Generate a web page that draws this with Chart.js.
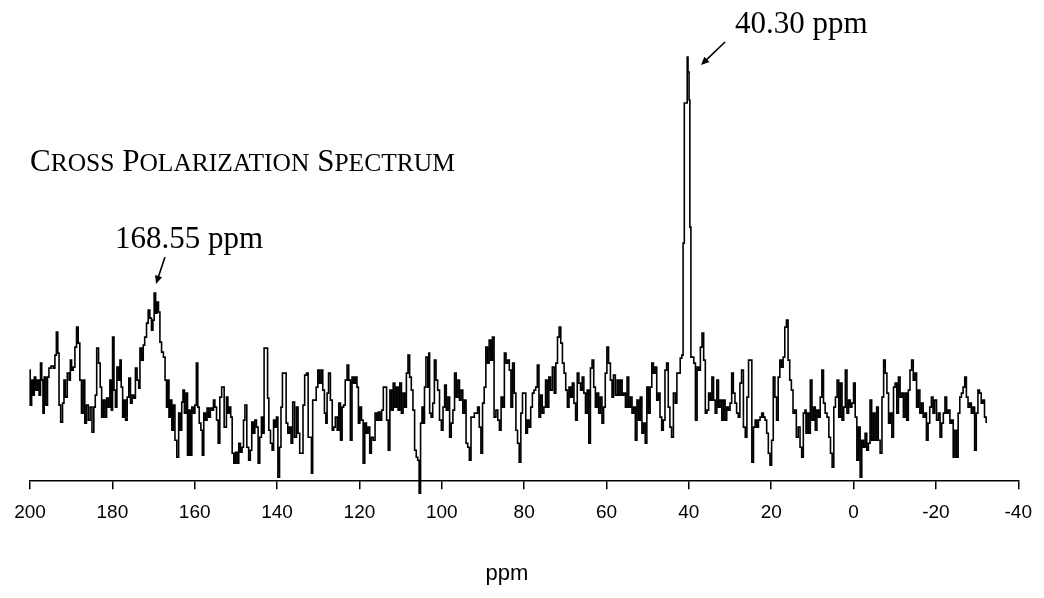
<!DOCTYPE html>
<html>
<head>
<meta charset="utf-8">
<script src="https://cdn.jsdelivr.net/npm/chart.js@4.4.1/dist/chart.umd.min.js"></script>
<style>
    html, body { margin: 0; padding: 0; background: #fff; }
    #wrap { width: 1044px; height: 598px; }
</style>
</head>
<body>
<div id="wrap"><canvas id="spectrum" width="1044" height="598"></canvas></div>
<script>
// 13C CP spectrum: chemical shift (ppm) and intensity (a.u.)
const shifts = [
    200.1, 199.8, 199.4, 199.1, 198.8, 198.4, 198.0, 197.6, 197.3, 197.0,
    196.7, 196.4, 195.9, 195.6, 195.2, 194.6, 194.1, 193.8, 193.4, 193.1,
    192.8, 192.3, 191.9, 191.6, 191.2, 190.7, 190.3, 190.1, 189.7, 189.3,
    188.9, 188.5, 188.1, 187.7, 187.3, 186.9, 186.5, 186.1, 185.6, 185.2,
    184.7, 184.3, 184.0, 183.6, 183.1, 182.8, 182.4, 182.0, 181.6, 181.2,
    180.8, 180.4, 180.1, 179.8, 179.4, 179.1, 178.7, 178.3, 178.0, 177.7,
    177.3, 177.0, 176.6, 176.2, 175.8, 175.4, 175.0, 174.6, 174.2, 173.8,
    173.4, 173.2, 172.6, 172.4, 171.9, 171.5, 171.1, 170.7, 170.3, 170.0,
    169.7, 169.3, 169.0, 168.6, 168.3, 167.8, 167.4, 167.0, 166.7, 166.4,
    166.1, 165.7, 165.4, 165.0, 164.6, 164.1, 163.7, 163.3, 163.0, 162.7,
    162.3, 161.9, 161.6, 161.2, 160.9, 160.5, 160.1, 159.8, 159.4, 159.1,
    158.7, 158.3, 158.0, 157.6, 157.2, 156.8, 156.4, 156.0, 155.6, 155.3,
    154.9, 154.5, 154.1, 153.7, 153.2,
    152.5, 152.1, 151.8, 151.4, 151.1, 150.7, 150.3, 149.9, 149.5, 149.1,
    148.7, 148.3, 148.0, 147.6, 147.1, 146.7, 146.3, 146.0, 145.6, 145.2,
    144.8, 144.4, 144.0, 143.6, 143.3, 143.0, 142.4, 142.2, 141.8, 141.4,
    141.0, 140.7, 140.3, 140.0, 139.6, 139.2, 138.9, 138.5, 138.0, 137.6,
    137.2, 136.8, 136.4, 136.0, 135.5, 135.1, 134.7, 134.3, 133.9, 133.5,
    133.1, 132.6, 132.3, 131.8, 131.5, 131.2, 130.7, 130.3, 129.9, 129.5,
    129.1, 128.7, 128.3, 128.0, 127.7, 127.3, 126.8, 126.4, 126.1, 125.6,
    125.2, 124.8, 124.4, 124.0, 123.7, 123.2, 122.8, 122.4, 122.0, 121.6,
    121.2, 120.8, 120.4, 120.1, 119.7, 119.3, 118.9, 118.5, 118.1, 117.7,
    117.3, 116.9, 116.4, 116.0, 115.6, 115.2, 114.8, 114.4, 114.0, 113.6,
    113.2, 112.8, 112.4, 112.0, 111.6, 111.2, 110.8, 110.4, 110.0, 109.6,
    109.2, 108.8, 108.4, 108.0, 107.6, 107.2, 106.8, 106.4, 106.0,
    105.7, 105.3, 105.0, 104.6, 104.3, 104.1, 103.6, 103.2, 103.1, 102.8,
    102.4, 102.0, 101.6, 101.2, 100.8, 100.3, 99.9, 99.5, 99.1, 98.7,
    98.3, 97.9, 97.5, 97.1, 96.7, 96.3, 95.9, 95.5, 95.1, 94.7,
    94.3, 93.9, 93.5, 93.1, 92.7, 92.3, 91.9, 91.5, 91.1, 90.7,
    90.3, 89.9, 89.5, 89.1, 88.7, 88.3, 87.9, 87.5, 87.1, 86.6,
    86.2, 85.8, 85.4, 85.0, 84.6, 84.2, 83.8, 83.4, 83.0, 82.6,
    82.2, 81.8, 81.4, 81.0, 80.6, 80.2, 79.8, 79.4, 79.0, 78.6,
    78.2, 77.8, 77.4, 77.0, 76.6, 76.2, 75.8, 75.4, 75.0, 74.6,
    74.2, 73.8, 73.4, 72.9, 72.5, 72.1, 71.7, 71.3, 70.9, 70.5,
    70.1, 69.7, 69.3, 68.9, 68.5, 68.1, 67.7, 67.3, 66.9, 66.5,
    66.1, 65.7, 65.3, 64.9, 64.5, 64.1, 63.7, 63.3, 62.9, 62.5,
    62.1, 61.7, 61.3, 60.9, 60.5, 60.1, 59.7, 59.3, 58.8,
    58.5, 58.1, 57.6, 57.2, 56.8, 56.4, 56.0, 55.6, 55.2, 54.8,
    54.4, 54.0, 53.6, 53.2, 52.8, 52.4, 52.0, 51.6, 51.2, 50.8,
    50.4, 50.0, 49.6, 49.2, 48.8, 48.4, 48.0, 47.6, 47.2, 46.8,
    46.4, 46.0, 45.6, 45.2, 44.8, 44.4, 44.0, 43.5, 43.1, 42.7,
    42.3, 41.9, 41.5, 41.3, 40.9, 40.5, 40.3, 40.1, 39.8, 39.7,
    39.3, 39.0, 38.6, 38.2, 37.8, 37.4, 37.0, 36.6, 36.2, 35.8,
    35.4, 35.0, 34.6, 34.2, 33.8, 33.4, 33.0, 32.6, 32.2, 31.8,
    31.4, 31.0, 30.6, 30.2, 29.8, 29.4, 29.0, 28.6, 28.2, 27.8,
    27.4, 27.0, 26.5, 26.1, 25.7, 25.3, 24.9, 24.5, 24.1, 23.7,
    23.3, 22.9, 22.5, 22.1, 21.7, 21.3, 20.9, 20.5, 20.1, 19.7,
    19.3, 18.9, 18.5, 18.1, 17.7, 17.3, 16.9, 16.5, 16.1, 15.7,
    15.3, 14.9, 14.5, 14.1, 13.7, 13.2, 12.8, 12.4, 12.0, 11.6,
    11.5, 11.1, 10.7, 10.3, 9.9, 9.5, 9.1, 8.7, 8.3, 7.9,
    7.5, 7.1, 6.7, 6.2, 5.8, 5.4, 5.0, 4.6, 4.2, 3.8,
    3.4, 3.0, 2.6, 2.2, 1.8, 1.4, 1.0, 0.6, 0.2, -0.2,
    -0.6, -1.0, -1.4, -1.8, -2.2, -2.6, -3.0, -3.4, -3.8, -4.2,
    -4.6, -5.0, -5.4, -5.8, -6.2, -6.7, -7.1, -7.5, -7.9, -8.3,
    -8.7, -9.1, -9.5, -9.9, -10.3, -10.7, -11.1, -11.5, -11.9, -12.3,
    -12.7, -13.1, -13.5, -13.9, -14.3, -14.7, -15.1, -15.5, -15.9, -16.3,
    -16.7, -17.1, -17.5, -17.9, -18.3, -18.7, -19.1, -19.5, -19.9, -20.4,
    -20.8, -21.2, -21.6, -22.0, -22.4, -22.8, -23.2, -23.6, -24.0, -24.4,
    -24.8, -25.2, -25.6, -26.0, -26.4, -26.8, -27.2, -27.6, -28.0, -28.4,
    -28.8, -29.2, -29.6, -30.0, -30.4, -30.8, -31.2, -31.6, -32.0, -32.4
];

const intensity = [
    111, 76, 101, 86, 104, 91, 101, 86, 118, 101,
    68, 104, 76, 104, 113, 115, 113, 126, 149, 128,
    76, 59, 78, 101, 84, 108, 101, 121, 111, 114,
    134, 154, 138, 101, 68, 101, 58, 76, 61, 74,
    49, 74, 86, 133, 118, 94, 64, 81, 64, 83,
    74, 101, 71, 144, 91, 74, 114, 101, 121, 94,
    64, 81, 61, 84, 103, 78, 86, 83, 113, 101,
    93, 133, 121, 136, 144, 158, 171, 163, 151, 161,
    188, 168, 179, 169, 139, 129, 124, 101, 74, 101,
    64, 81, 51, 76, 41, 24, 68, 51, 79, 91,
    68, 88, 26, 71, 26, 74, 68, 76, 118, 74,
    58, 51, 26, 68, 61, 73, 64, 73, 71, 81,
    74, 61, 38, 84, 94,
    54, 84, 68, 74, 64, 28, 18, 29, 18, 38,
    29, 34, 61, 76, 34, 21, 31, 59, 48, 61,
    54, 18, 44, 64, 48, 133, 133, 83, 51, 38,
    31, 61, 54, 64, 4, 34, 74, 108, 108, 58,
    48, 54, 38, 79, 44, 74, 48, 28, 28, 76,
    106, 108, 44, 44, 8, 81, 81, 94, 111, 98,
    111, 91, 68, 58, 88, 108, 81, 51, 54, 64,
    51, 78, 41, 74, 76, 101, 116, 101, 41, 104,
    98, 104, 94, 58, 74, 61, 18, 58, 48, 54,
    28, 44, 41, 68, 61, 69, 61, 71, 94, 94,
    61, 31, 91, 71, 98, 74, 94, 71, 98, 68,
    88, 74, 108, 126, 104, 91, 71, 31, 24,
    21, -12, 58, 74, 58, 94, 124, 94, 128, 68,
    64, 78, 121, 101, 91, 61, 51, 74, 96, 71,
    84, 44, 58, 71, 108, 84, 101, 81, 91, 68,
    81, 38, 34, 21, 64, 64, 68, 68, 74, 54,
    28, 78, 94, 134, 118, 141, 121, 144, 64, 71,
    61, 51, 84, 74, 128, 118, 121, 111, 74, 118,
    88, 51, 38, 19, 68, 88, 88, 48, 61, 54,
    74, 88, 91, 94, 116, 64, 86, 68, 74, 101,
    74, 104, 91, 114, 88, 118, 144, 154, 138, 118,
    108, 91, 74, 94, 84, 98, 78, 61, 108, 98,
    91, 104, 88, 68, 91, 38, 113, 121, 94, 74,
    88, 68, 84, 58, 74, 108, 134, 118, 101,
    84, 106, 86, 101, 86, 101, 86, 88, 74, 104,
    74, 84, 68, 74, 41, 81, 61, 84, 48, 58,
    38, 94, 68, 94, 118, 108, 114, 81, 88, 64,
    51, 61, 111, 118, 74, 54, 44, 88, 78, 108,
    108, 123, 126, 238, 378, 378, 424, 409, 381, 254,
    124, 124, 118, 61, 114, 111, 134, 148, 121, 68,
    71, 88, 81, 104, 81, 68, 101, 74, 81, 61,
    81, 61, 74, 71, 78, 108, 88, 78, 68, 64,
    98, 111, 54, 44, 84, 121, 121, 19, 54, 61,
    54, 61, 64, 68, 64, 61, 48, 28, 16, 41,
    104, 84, 61, 104, 121, 114, 124, 154, 161, 121,
    101, 91, 68, 71, 44, 54, 34, 24, 68, 71,
    48, 68, 48, 101, 61, 74, 51, 71, 64, 84,
    111, 78, 68, 64, 44, 28, 14, 74, 84, 101,
    64, 98, 61, 74, 111, 68, 81, 74, 78, 98,
    64, 21, 54, 4, 41, 34, 48, 31, 38, 81,
    41, 68, 41, 74, 41, 28, 84, 121, 108, 88,
    58, 68, 44, 94, 98, 68, 104, 84, 88, 64,
    88, 61, 91, 111, 121, 101, 108, 74, 91, 68,
    78, 64, 68, 41, 58, 74, 84, 68, 81, 61,
    68, 44, 58, 68, 84, 68, 71, 58, 61, 24,
    51, 24, 68, 84, 88, 94, 104, 84, 74, 78,
    68, 74, 31, 68, 91, 88, 78, 81, 64, 59
];

const axisMin = -40;
const axisMax = 200;
const axisStep = 20;
const axisTitle = 'ppm';
const peakLabels = ['168.55 ppm', '40.30 ppm'];

const points = shifts.map((s, i) => ({ x: s, y: intensity[i] }));

// small caps title, arrows and the ppm axis caption
function drawArrow(ctx, x1, y1, x2, y2) {
    const a = Math.atan2(y2 - y1, x2 - x1);
    const head = 9;
    ctx.beginPath();
    ctx.moveTo(x1, y1);
    ctx.lineTo(x2 - Math.cos(a) * head * 0.7, y2 - Math.sin(a) * head * 0.7);
    ctx.stroke();
    ctx.beginPath();
    ctx.moveTo(x2, y2);
    ctx.lineTo(x2 - head * Math.cos(a - 0.42), y2 - head * Math.sin(a - 0.42));
    ctx.lineTo(x2 - head * Math.cos(a + 0.42), y2 - head * Math.sin(a + 0.42));
    ctx.closePath();
    ctx.fill();
}

const annotations = {
    id: 'annotations',
    afterDraw(chart) {
        const ctx = chart.ctx;
        ctx.save();
        ctx.fillStyle = '#000';
        ctx.strokeStyle = '#000';
        ctx.lineWidth = 1.6;
        ctx.textBaseline = 'alphabetic';
        ctx.textAlign = 'left';

        const big = '31px "Liberation Serif", "Times New Roman", serif';
        const small = '25.5px "Liberation Serif", "Times New Roman", serif';
        const parts = [['C', big], ['ROSS', small], [' ', big], ['P', big], ['OLARIZATION', small],
                       [' ', big], ['S', big], ['PECTRUM', small]];
        let x = 30;
        parts.forEach(([txt, font]) => {
            ctx.font = font;
            ctx.fillText(txt, x, 171);
            x += ctx.measureText(txt).width;
        });

        ctx.font = big;
        ctx.fillText(peakLabels[0], 115, 248);
        ctx.fillText(peakLabels[1], 735, 33);

        drawArrow(ctx, 165, 257, 156, 284);
        drawArrow(ctx, 725, 42, 701, 65);

        ctx.font = '22px "Liberation Sans", Arial, sans-serif';
        ctx.textAlign = 'center';
        ctx.fillText(axisTitle, 507, 580);
        ctx.restore();
    }
};

new Chart(document.getElementById('spectrum'), {
    type: 'line',
    data: {
        datasets: [{
            data: points,
            borderColor: '#000',
            borderWidth: 1.6,
            pointRadius: 0,
            stepped: 'middle',
            fill: false,
            clip: false
        }]
    },
    options: {
        responsive: false,
        animation: false,
        layout: { padding: { left: 30, right: 21, top: 51, bottom: 62 } },
        plugins: { legend: { display: false }, tooltip: { enabled: false } },
        scales: {
            x: {
                type: 'linear',
                reverse: true,
                min: axisMin,
                max: axisMax,
                ticks: {
                    stepSize: axisStep,
                    color: '#000',
                    padding: 12,
                    maxRotation: 0,
                    font: { family: '"Liberation Sans", Arial, sans-serif', size: 19 },
                    callback: v => String(v)
                },
                grid: { drawOnChartArea: false, drawTicks: true, tickLength: 8, color: '#000', lineWidth: 1.5 },
                border: { display: true, color: '#000', width: 1.5 }
            },
            y: { display: false, min: 0, max: 430 }
        }
    },
    plugins: [annotations]
});
</script>
</body>
</html>
